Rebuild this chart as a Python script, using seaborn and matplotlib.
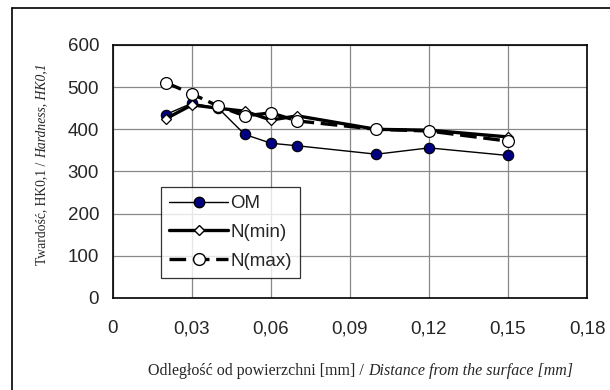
import matplotlib
matplotlib.use('Agg')
import matplotlib.pyplot as plt
import seaborn as sns
import pandas as pd
from matplotlib.lines import Line2D

distance = [0.02, 0.03, 0.04, 0.05, 0.06, 0.07, 0.10, 0.12, 0.15]
om = [435, 462, 450, 388, 367, 361, 341, 356, 338]
n_min = [425, 458, 450, 443, 422, 432, 400, 398, 382]
n_max = [511, 484, 455, 432, 439, 420, 400, 396, 372]

x_ticks = [0, 0.03, 0.06, 0.09, 0.12, 0.15, 0.18]
x_labels = ['0', '0,03', '0,06', '0,09', '0,12', '0,15', '0,18']
y_ticks = [0, 100, 200, 300, 400, 500, 600]

df = pd.DataFrame({'x': distance, 'OM': om, 'N(min)': n_min, 'N(max)': n_max})

sns.set_style('white')
plt.rcParams['font.family'] = ['Liberation Sans', 'DejaVu Sans']

fig = plt.figure(figsize=(6.1, 3.9), dpi=100)
ax = fig.add_axes([113/610, 1-298/390, (587-113)/610, (298-45)/390])

sns.lineplot(data=df, x='x', y='OM', ax=ax, color='black', lw=1,
             marker='o', markersize=7.5, markerfacecolor='#000080',
             markeredgecolor='black', markeredgewidth=0.8, zorder=3)
sns.lineplot(data=df, x='x', y='N(min)', ax=ax, color='black', lw=2.4,
             marker='D', markersize=5.5, markerfacecolor='white',
             markeredgecolor='black', markeredgewidth=0.9, zorder=4)
sns.lineplot(data=df, x='x', y='N(max)', ax=ax, color='black', lw=2.4,
             dashes=(5, 2), marker='o', markersize=8.5, markerfacecolor='white',
             markeredgecolor='black', markeredgewidth=0.9, zorder=5)

ax.set_xlim(0, 0.18)
ax.set_ylim(0, 600)
ax.set_xticks(x_ticks)
ax.set_xticklabels(x_labels)
ax.set_yticks(y_ticks)
ax.tick_params(labelsize=13.5, length=5, width=0.8, color='#555555',
               direction='out')
ax.tick_params(axis='x', pad=11)
ax.tick_params(axis='y', pad=5)
ax.grid(True, color='#888888', lw=0.9)
for s in ax.spines.values():
    s.set_color('black')
    s.set_linewidth(1.2)
ax.set_xlabel('')
ax.set_ylabel('')

handles = [
    Line2D([], [], color='black', lw=1, marker='o', markersize=7.5,
           markerfacecolor='#000080', markeredgecolor='black'),
    Line2D([], [], color='black', lw=2.4, marker='D', markersize=5.5,
           markerfacecolor='white', markeredgecolor='black'),
    Line2D([], [], color='black', lw=2.4, dashes=(5, 2), marker='o', markersize=8.5,
           markerfacecolor='white', markeredgecolor='black'),
]
leg = ax.legend(handles, ['OM', 'N(min)', 'N(max)'], loc='lower left',
                bbox_to_anchor=((161-113)/474, (298-278)/253), fontsize=13.5,
                handlelength=3.1, handletextpad=0.15, labelspacing=0.62,
                frameon=True, fancybox=False, edgecolor='black',
                borderpad=0.45, borderaxespad=0)
leg.get_frame().set_linewidth(0.9)

# axis titles: roman part + italic part
serif = ['Liberation Serif', 'DejaVu Serif']
tx = fig.text(148/610, 1-375/390, 'Odległość od powierzchni [mm] / ', family=serif,
              fontsize=11.5, ha='left', va='baseline')
ax.annotate('Distance from the surface [mm]', xy=(1, 0), xycoords=tx,
            family=serif, style='italic', fontsize=11.5, ha='left', va='bottom')
ty = fig.text(35/610, 1-265/390, 'Twardość, HK0,1 / ', family=serif,
              fontsize=9.8, rotation=90, ha='left', va='bottom')
ax.annotate('Hardness, HK0,1', xy=(0, 1), xycoords=ty, family=serif,
            style='italic', fontsize=9.8, rotation=90, ha='left', va='bottom')

# outer chart border (left and top edges visible)
fig.add_artist(Line2D([11.5/610, 11.5/610], [0, 1-8/390], color='black', lw=1.2))
fig.add_artist(Line2D([11.5/610, 1], [1-8/390, 1-8/390], color='black', lw=1.2))

fig.savefig('out.png', dpi=100)
